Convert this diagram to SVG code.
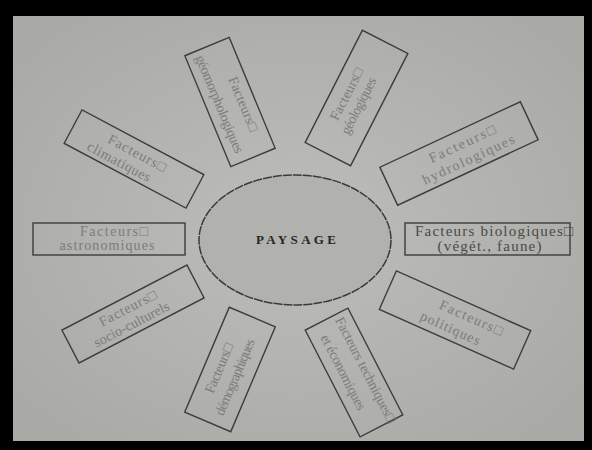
<svg xmlns="http://www.w3.org/2000/svg" width="592" height="450" viewBox="0 0 592 450">
<defs>
<radialGradient id="paper" cx="50%" cy="50%" r="65%">
<stop offset="0" stop-color="#bdbdb9"/>
<stop offset="1" stop-color="#a9a9a5"/>
</radialGradient>
<style>
.box{fill:none;stroke:#3c3c3c;stroke-width:1.4}
.t{font-family:"Liberation Serif","DejaVu Serif",serif;font-size:14px;fill:#7c7c7a;text-anchor:middle}
.dark{fill:#4a4a4a;font-size:15px}
.core{fill:#b1b1ad;stroke:#3a3a3a;stroke-width:1.5;stroke-dasharray:9 1}
.title{font-family:"Liberation Serif","DejaVu Serif",serif;font-size:13px;font-weight:bold;fill:#262626;text-anchor:middle}
</style>
</defs>
<rect x="0" y="0" width="592" height="450" fill="#000"/>
<rect x="13" y="16" width="571" height="425" fill="url(#paper)"/>
<g id="connectors"/>
<g id="paysage">
<ellipse class="core" cx="295" cy="240" rx="96" ry="65"/>
<text class="title" x="296" y="244" textLength="80" lengthAdjust="spacing">PAYSAGE</text>
</g>
<g id="astronomiques" transform="translate(109,239)">
<rect class="box" x="-76" y="-16" width="152" height="32"/>
<text class="t" x="5" y="-3" textLength="68" lengthAdjust="spacing">Facteurs□</text>
<text class="t" x="-2" y="11" textLength="95" lengthAdjust="spacing">astronomiques</text>
</g>
<g id="biologiques" transform="translate(487.5,239)">
<rect class="box" x="-82.5" y="-16" width="165" height="32"/>
<text class="t dark" x="6.5" y="-3" textLength="158" lengthAdjust="spacing">Facteurs biologiques□</text>
<text class="t dark" x="2" y="12" textLength="104" lengthAdjust="spacing">(végét., faune)</text>
</g>
<g id="climatiques" transform="translate(134,159) rotate(28)">
<rect class="box" x="-69" y="-19" width="138" height="38"/>
<text class="t" x="0" y="-2" textLength="64" lengthAdjust="spacing">Facteurs□</text>
<text class="t" x="-12" y="14" textLength="70" lengthAdjust="spacing">climatiques</text>
</g>
<g id="geomorphologiques" transform="translate(230,102) rotate(67.5)">
<rect class="box" x="-60" y="-24" width="120" height="48"/>
<text class="t" x="7" y="-7" textLength="58" lengthAdjust="spacing">Facteurs□</text>
<text class="t" x="-2" y="15" textLength="105" lengthAdjust="spacing">géomorphologiques</text>
</g>
<g id="geologiques" transform="translate(356.5,98) rotate(-63)">
<rect class="box" x="-63" y="-25.5" width="126" height="51"/>
<text class="t" x="-1" y="-6" textLength="57" lengthAdjust="spacing">Facteurs□</text>
<text class="t" x="-6" y="10" textLength="62" lengthAdjust="spacing">géologiques</text>
</g>
<g id="hydrologiques" transform="translate(459,153.5) rotate(-25)">
<rect class="box" x="-77.5" y="-21" width="155" height="42"/>
<text class="t" x="7" y="-3" textLength="72" lengthAdjust="spacing">Facteurs□</text>
<text class="t" x="6" y="14" textLength="100" lengthAdjust="spacing">hydrologiques</text>
</g>
<g id="politiques" transform="translate(455,320) rotate(24)">
<rect class="box" x="-73.5" y="-21" width="147" height="42"/>
<text class="t" x="14" y="-4" textLength="68" lengthAdjust="spacing">Facteurs□</text>
<text class="t" x="-1" y="14" textLength="64" lengthAdjust="spacing">politiques</text>
</g>
<g id="techniques" transform="translate(354,372.5) rotate(62.8)">
<rect class="box" x="-60" y="-24" width="120" height="48"/>
<text class="t" x="3" y="-7" textLength="117" lengthAdjust="spacing">Facteurs techniques□</text>
<text class="t" x="-5" y="14" textLength="83" lengthAdjust="spacing">et économiques</text>
</g>
<g id="demographiques" transform="translate(230,369.5) rotate(-67)">
<rect class="box" x="-57" y="-25" width="114" height="50"/>
<text class="t" x="-3" y="-6" textLength="53" lengthAdjust="spacing">Facteurs□</text>
<text class="t" x="-5" y="12" textLength="82" lengthAdjust="spacing">démographiques</text>
</g>
<g id="socioculturels" transform="translate(133,314) rotate(-27.5)">
<rect class="box" x="-70.5" y="-18.5" width="141" height="37"/>
<text class="t" x="-2" y="-3" textLength="63" lengthAdjust="spacing">Facteurs□</text>
<text class="t" x="-6" y="13" textLength="83" lengthAdjust="spacing">socio-culturels</text>
</g>
</svg>
